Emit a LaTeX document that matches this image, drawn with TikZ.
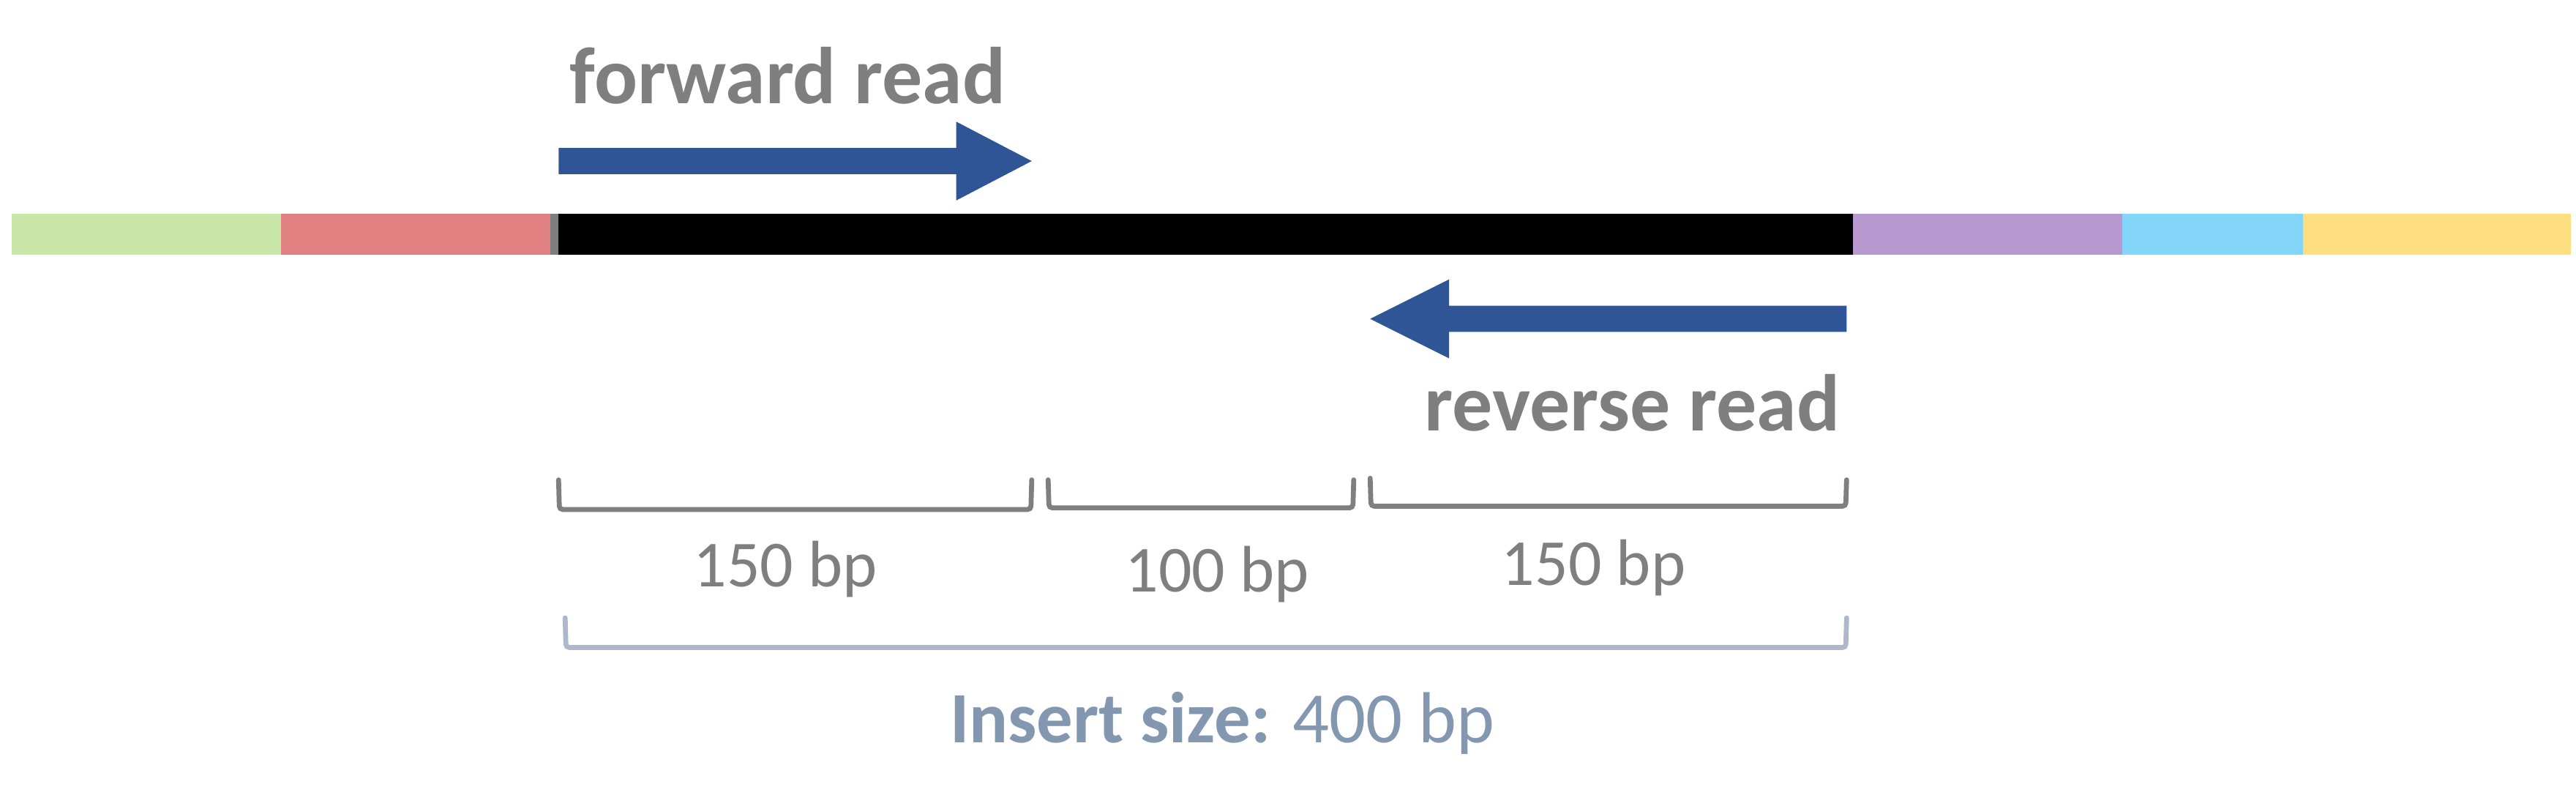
\documentclass[tikz,border=0pt]{standalone}
\usepackage{fontspec}
\setmainfont{Carlito}
\definecolor{txtgray}{RGB}{127,127,127}
\definecolor{readblue}{RGB}{47,85,151}
\definecolor{insblue}{RGB}{132,151,176}
\definecolor{insline}{RGB}{173,185,202}
\definecolor{segA}{RGB}{200,231,167}
\definecolor{segB}{RGB}{224,128,128}
\definecolor{segC}{RGB}{183,152,207}
\definecolor{segD}{RGB}{131,214,247}
\definecolor{segE}{RGB}{254,222,128}
\begin{document}
\begin{tikzpicture}[x=1pt,y=-1pt,
  lbl/.style={inner sep=0pt,outer sep=0pt,text=txtgray,font=\fontsize{49}{52}\selectfont\bfseries},
  bplbl/.style={inner sep=0pt,outer sep=0pt,text=txtgray,font=\fontsize{40}{44}\selectfont},
  brk/.style={draw=txtgray,line width=3pt,rounded corners=2pt,line cap=round},
  readarrow/.style={fill=readblue,draw=none}]
\useasboundingbox (0,0) rectangle (1568,490);
% genome bar
\fill[segA] (7,130) rectangle (171,155);
\fill[segB] (171,130) rectangle (335,155);
\fill[txtgray] (335,130) rectangle (340,155);
\fill[black] (340,130) rectangle (1128,155);
\fill[segC] (1128,130) rectangle (1292,155);
\fill[segD] (1292,130) rectangle (1402,155);
\fill[segE] (1402,130) rectangle (1565,155);
% forward read arrow
\fill[readarrow] (340,90) -- (582,90) -- (582,74) -- (628,98) -- (582,122) -- (582,106) -- (340,106) -- cycle;
\node[lbl,anchor=base west] (fwd) at (347,63) {forward read};
% reverse read arrow
\fill[readarrow] (1124,186) -- (882,186) -- (882,170) -- (834,194) -- (882,218) -- (882,202) -- (1124,202) -- cycle;
\node[lbl,anchor=base east] (rev) at (1120,262) {reverse read};
% segment brackets
\draw[brk] (340,292) -- (340.5,310) -- (627.5,310) -- (628,292);
\draw[brk] (638,292) -- (638.5,309) -- (823.5,309) -- (824,292);
\draw[brk] (834,291) -- (834.5,308) -- (1123.5,308) -- (1124,292);
\node[bplbl,anchor=base] (l1) at (478,357) {150 bp};
\node[bplbl,anchor=base] (l2) at (741,360) {100 bp};
\node[bplbl,anchor=base] (l3) at (970,356) {150 bp};
% insert bracket
\draw[brk,draw=insline] (344,376) -- (344.5,394) -- (1123.5,394) -- (1124,376);
\node[inner sep=0pt,outer sep=0pt,text=insblue,font=\fontsize{44}{48}\selectfont,anchor=base] (ins) at (744,452) {\textbf{Insert size:} 400 bp};
\end{tikzpicture}
\end{document}
